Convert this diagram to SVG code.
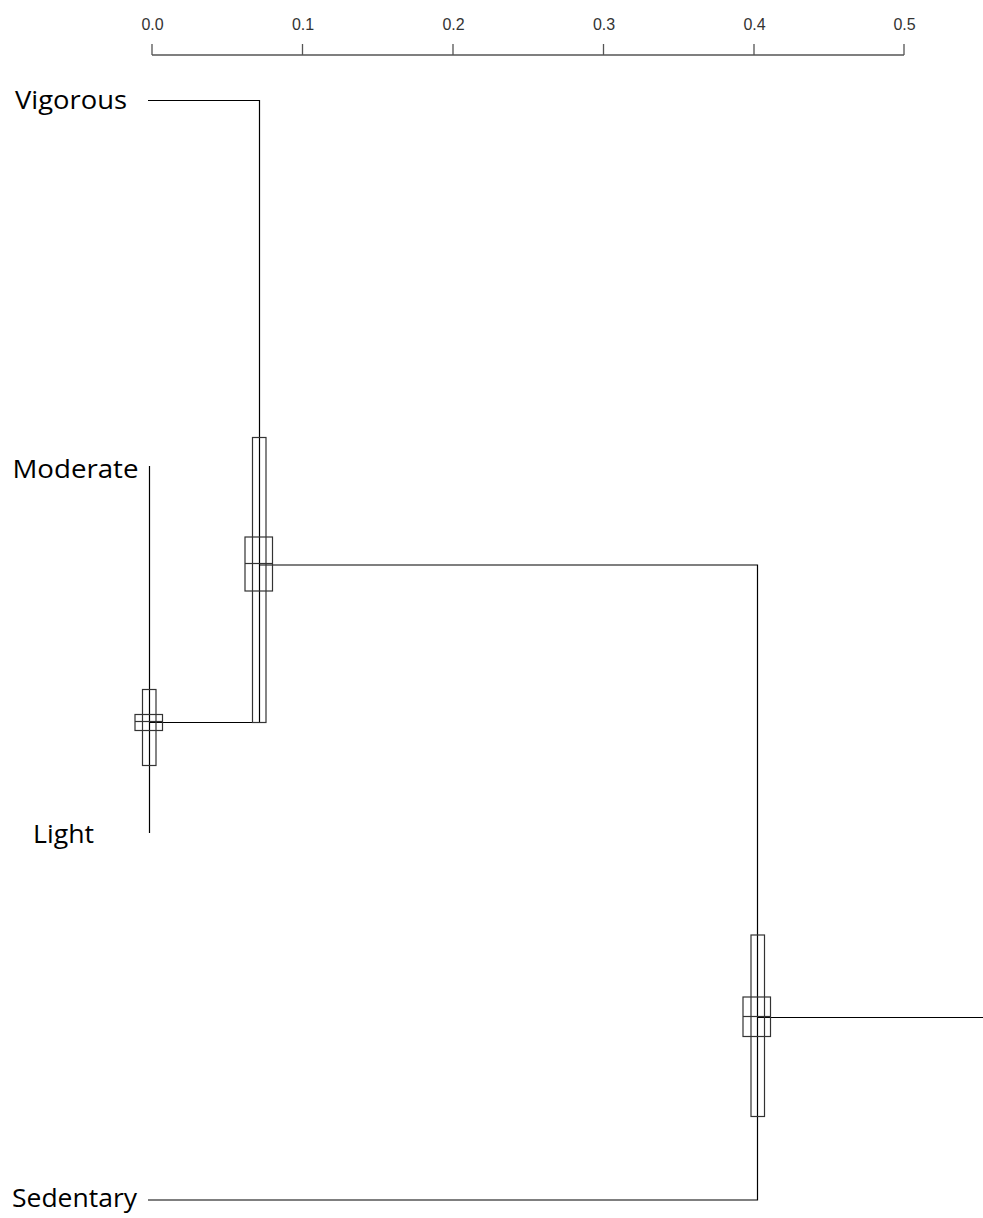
<svg xmlns="http://www.w3.org/2000/svg" width="983" height="1218" viewBox="0 0 983 1218">
<style>
.ax{stroke:#555;stroke-width:1.3;fill:none}
.tk{font-family:"Liberation Sans",Arial,sans-serif;font-size:16px;fill:#333;text-anchor:middle}
.lb{font-family:"Open Sans","Noto Sans",sans-serif;font-size:25px;fill:#000}
.ln{stroke:#000;stroke-width:1.2;fill:none}
.bx{stroke:#333;stroke-width:1.2;fill:none}
</style>
<g id="axis">
<path class="ax" d="M152,55H904M152,44V55M302.5,44V55M453,44V55M603.5,44V55M754,44V55M904,44V55"/>
<text class="tk" x="152.5" y="30">0.0</text>
<text class="tk" x="303" y="30">0.1</text>
<text class="tk" x="453.5" y="30">0.2</text>
<text class="tk" x="604" y="30">0.3</text>
<text class="tk" x="754.5" y="30">0.4</text>
<text class="tk" x="904.5" y="30">0.5</text>
</g>
<g id="connectors">
<path class="ln" d="M148,100.5H259.5V722.5"/>
<path class="ln" d="M149.5,466V833"/>
<path class="ln" d="M149.5,722.5H266"/>
<path class="ln" d="M259.5,565H757.5V1200H148"/>
<path class="ln" d="M757.5,1017.5H983"/>
</g>
<g id="leaf-vigorous"><text class="lb" x="15" y="109" textLength="112" lengthAdjust="spacingAndGlyphs">Vigorous</text></g>
<g id="leaf-moderate"><text class="lb" x="12.5" y="478" textLength="126" lengthAdjust="spacingAndGlyphs">Moderate</text></g>
<g id="leaf-light"><text class="lb" x="33" y="843" textLength="61" lengthAdjust="spacingAndGlyphs">Light</text></g>
<g id="leaf-sedentary"><text class="lb" x="12" y="1207" textLength="125" lengthAdjust="spacingAndGlyphs">Sedentary</text></g>
<g id="node-light-moderate">
<rect class="bx" x="142.5" y="689.5" width="13.5" height="76"/>
<rect class="bx" x="135" y="714.5" width="27.5" height="16"/>
<path class="bx" d="M135,721.5H162.5"/>
</g>
<g id="node-vigorous">
<rect class="bx" x="252.5" y="437.5" width="13.5" height="285"/>
<rect class="bx" x="245" y="537" width="27.5" height="54"/>
<path class="bx" d="M245,563.5H272.5"/>
</g>
<g id="node-root">
<rect class="bx" x="751" y="935" width="13.5" height="181.5"/>
<rect class="bx" x="743" y="997" width="27.5" height="39.5"/>
<path class="bx" d="M743,1016.5H770.5"/>
</g>
</svg>
